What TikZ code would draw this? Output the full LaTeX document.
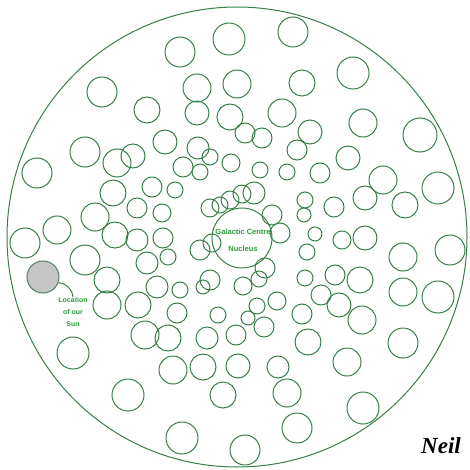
\documentclass[tikz,border=0pt]{standalone}
\usepackage{fontspec}
\setmainfont{Liberation Serif}
\newfontfamily\labelfont{Liberation Sans}
\usetikzlibrary{positioning}
\definecolor{cellgreen}{HTML}{377F47}
\definecolor{textgreen}{HTML}{2A9A3A}
\definecolor{sungray}{HTML}{C6C6C6}

\begin{document}
\begin{tikzpicture}[x=1pt, y=-1pt,
        cell/.style={draw=cellgreen, line width=1pt},
        tag/.style={text=textgreen, font=\labelfont\bfseries\fontsize{7}{12}\selectfont,
                    align=center, inner sep=0pt}
    ]
    \useasboundingbox (0,0) rectangle (469,470);
    % outer disc
    \draw[cell] (237,237) circle (230pt);
    % central ring
    \draw[cell] (242,238) circle (30pt);
    % clusters
    \foreach \x/\y/\r in {
        180/52/15, 229/39/16, 102/92/15, 147/110/13, 197/88/14, 237/84/14,
        197/113/12, 230/117/13, 165/142/12, 85/152/15, 117/163/14, 133/156/12,
        198/148/11, 210/157/8, 183/167/10, 200/172/8, 231/163/9, 37/173/15,
        113/193/13, 152/187/10, 175/190/8, 95/217/14, 137/208/10, 162/213/9,
        210/208/9, 220/205/8, 230/200/9, 242/194/9, 57/230/14, 25/243/15,
        115/235/13, 137/240/11, 163/238/10,
        293/32/15, 353/73/16, 302/83/13, 282/113/14, 363/123/14, 420/135/17,
        310/132/12, 245/133/10, 262/138/10, 297/150/10, 348/158/12, 260/170/8,
        287/172/8, 320/173/10, 383/180/14, 438/188/16, 254/193/11, 365/198/12,
        405/205/13, 305/200/8, 334/207/10, 304/215/7, 272/215/10,
        85/260/15, 147/263/11, 168/257/8, 107/280/13, 157/287/11, 180/290/8,
        203/287/7, 210/280/10, 107/305/14, 138/305/13, 177/313/10, 218/315/8,
        145/335/14, 168/338/13, 207/338/11, 73/353/16, 173/370/14, 203/367/13,
        238/366/12, 128/395/16, 223/395/13, 182/438/16, 200/250/10, 212/243/9,
        280/233/10, 315/234/7, 342/240/9, 365/238/12, 403/257/14, 450/250/15,
        307/252/8, 265/268/10, 259/279/8, 305/278/8, 335/275/10, 360/280/13,
        403/292/14, 438/297/16, 243/286/9, 277/301/9, 321/295/10, 339/305/12,
        362/320/14, 257/306/8, 302/314/10, 248/318/7, 264/327/10, 236/335/10,
        403/343/15, 308/342/13, 347/362/14, 278/367/11, 287/393/14, 363/408/16,
        297/428/15, 245/450/15}
        \draw[cell] (\x,\y) circle (\r pt);
    % our star and its label
    \node[circle, draw=cellgreen!60!gray, line width=1pt, fill=sungray,
          minimum size=32pt, inner sep=0pt] (sun) at (43,277) {};
    \node[tag] (sunlabel) at (73,312) {Location\\of our\\Sun};
    \draw[cell] (sun.-20) to[bend left=40] (sunlabel.north);
    % centre label
    \node[tag, font=\labelfont\bfseries\fontsize{7.5}{17}\selectfont] (core) at (243,240)
        {Galactic Centre\\Nucleus};
    % signature
    \node[font=\bfseries\itshape\fontsize{23}{23}\selectfont, inner sep=0pt] (sig)
        at (441,446) {Neil};
\end{tikzpicture}
\end{document}
